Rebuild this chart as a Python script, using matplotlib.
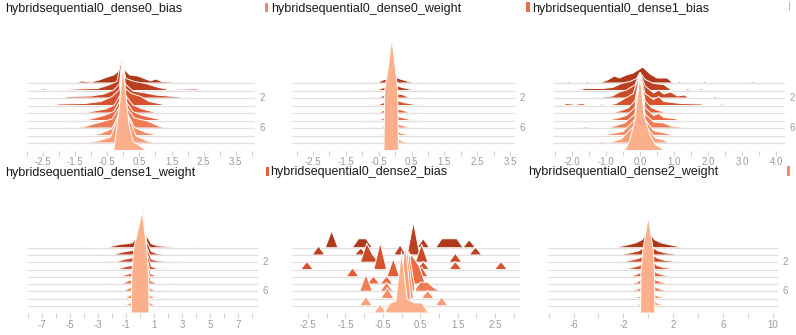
import matplotlib
matplotlib.use("Agg")
import matplotlib.pyplot as plt
from matplotlib.patches import Rectangle
from matplotlib.transforms import Bbox, TransformedBbox

plt.rcParams['font.family'] = ['Liberation Sans', 'DejaVu Sans']

W, H = 796, 335
fig = plt.figure(figsize=(W / 100, H / 100), dpi=100)

# ---------------- data (histogram outlines per step: (value, count)) ----------------
titles = ["hybridsequential0_dense0_bias", "hybridsequential0_dense0_weight",
          "hybridsequential0_dense1_bias", "hybridsequential0_dense1_weight",
          "hybridsequential0_dense2_bias", "hybridsequential0_dense2_weight"]

step_labels = ["2", "6"]
step_label_rows = [2, 6]

p1_ticks = [-2.5, -1.5, -0.5, 0.5, 1.5, 2.5, 3.5]
p1_labels = ["-2.5", "-1.5", "-0.5", "0.5", "1.5", "2.5", "3.5"]
p1_rows = [
    [(-1.5, 0), (-1.3, 2), (-1.0, 1), (-0.75, 3), (-0.5, 6), (-0.3, 8), (-0.15, 12), (-0.05, 26), (0.05, 13), (0.2, 8), (0.45, 7), (0.7, 4), (0.85, 2), (1.0, 4), (1.2, 1.5), (1.6, 1), (1.85, 0)],
    [(-2.65, 0), (-2.5, 1.5), (-2.2, 0.5), (-1.4, 1.5), (-0.8, 2), (-0.5, 5), (-0.2, 9), (-0.05, 32.5), (0.08, 12), (0.35, 9), (0.7, 7), (1.1, 3), (1.4, 1), (2.3, 1.5), (2.45, 0)],
    [(-2.0, 0), (-1.7, 1.5), (-1.0, 2), (-0.6, 4), (-0.3, 8), (-0.12, 14), (-0.04, 39), (0.06, 14), (0.3, 7), (0.7, 5), (1.0, 3), (1.4, 2), (1.8, 1), (2.0, 0)],
    [(-2.3, 0), (-2.0, 1.5), (-1.2, 2), (-0.7, 4), (-0.35, 9), (-0.12, 16), (-0.04, 45.5), (0.06, 17), (0.25, 12), (0.55, 9), (0.8, 4), (1.1, 2), (1.4, 0)],
    [(-1.3, 0), (-0.9, 2), (-0.55, 4), (-0.28, 8), (-0.1, 18), (-0.03, 52), (0.06, 18), (0.3, 8), (0.6, 4), (0.9, 1.5), (1.2, 0)],
    [(-1.5, 0), (-1.0, 1.5), (-0.6, 5), (-0.3, 9), (-0.1, 20), (-0.03, 58.5), (0.06, 20), (0.3, 9), (0.6, 5), (1.0, 2), (1.3, 0)],
    [(-1.7, 0), (-1.2, 1.5), (-0.7, 6), (-0.35, 9), (-0.1, 22), (-0.02, 65), (0.07, 22), (0.35, 10), (0.75, 7), (1.1, 2), (1.4, 0)],
    [(-1.1, 0), (-0.7, 2), (-0.35, 7), (-0.12, 24), (-0.02, 71.5), (0.08, 25), (0.35, 8), (0.7, 3), (1.0, 1), (1.2, 0)],
    [(-1.3, 0), (-0.8, 2), (-0.4, 6), (-0.13, 28), (-0.02, 78), (0.1, 30), (0.4, 7), (0.75, 2), (1.1, 0)],
    [(-0.3, 0), (-0.24, 14), (-0.12, 45), (-0.02, 84.5), (0.1, 50), (0.18, 25), (0.3, 9), (0.55, 4), (0.7, 0)],
]

p2_ticks = [-2.5, -1.5, -0.5, 0.5, 1.5, 2.5, 3.5]
p2_labels = ["-2.5", "-1.5", "-0.5", "0.5", "1.5", "2.5", "3.5"]
p2_rows = [
    [(-1.0, 0), (-0.5, 1), (-0.33, 3.5), (-0.22, 4), (-0.14, 14), (-0.08, 46), (-0.02, 14), (0.08, 5), (0.2, 3.5), (0.4, 1.5), (0.8, 0)],
    [(-1.2, 0), (-0.5, 1), (-0.33, 3), (-0.22, 4), (-0.14, 16), (-0.08, 52.7), (-0.02, 16), (0.08, 4.5), (0.22, 3), (0.5, 1), (1.0, 0)],
    [(-0.9, 0), (-0.45, 1), (-0.32, 3), (-0.22, 4), (-0.14, 18), (-0.08, 59.4), (-0.02, 18), (0.08, 4), (0.2, 3.5), (0.4, 1), (0.8, 0)],
    [(-1.1, 0), (-0.5, 1), (-0.33, 3), (-0.22, 4), (-0.14, 20), (-0.08, 66.1), (-0.02, 20), (0.08, 5), (0.25, 3), (0.6, 1), (1.1, 0)],
    [(-0.8, 0), (-0.45, 1), (-0.32, 3), (-0.22, 4), (-0.14, 22), (-0.08, 72.8), (-0.02, 22), (0.08, 4), (0.2, 3), (0.4, 1), (0.7, 0)],
    [(-1.0, 0), (-0.45, 1), (-0.3, 3), (-0.22, 4), (-0.14, 24), (-0.08, 79.5), (-0.02, 24), (0.08, 4), (0.2, 3), (0.45, 1), (0.8, 0)],
    [(-0.8, 0), (-0.4, 1), (-0.3, 3), (-0.22, 4), (-0.14, 27), (-0.08, 86.2), (-0.02, 27), (0.08, 4), (0.2, 2.5), (0.4, 1), (0.7, 0)],
    [(-0.7, 0), (-0.4, 1), (-0.3, 2.5), (-0.22, 4), (-0.14, 30), (-0.08, 92.9), (-0.02, 30), (0.08, 4), (0.2, 2), (0.4, 1), (0.7, 0)],
    [(-0.6, 0), (-0.35, 1), (-0.28, 2.5), (-0.22, 5), (-0.14, 34), (-0.08, 99.6), (-0.02, 34), (0.08, 5), (0.2, 2), (0.35, 1), (0.6, 0)],
    [(-0.34, 0), (-0.32, 60), (-0.2, 85), (-0.1, 112), (0.0, 85), (0.08, 60), (0.1, 0)],
]

p3_ticks = [-2.0, -1.0, 0.0, 1.0, 2.0, 3.0, 4.0]
p3_labels = ["-2.0", "-1.0", "0.0", "1.0", "2.0", "3.0", "4.0"]
p3_rows = [
    [(-2.2, 0), (-2.1, 1.5), (-2.0, 0), (-1.65, 0), (-1.55, 1.5), (-1.45, 0), (-1.2, 0), (-0.95, 3), (-0.75, 7), (-0.6, 5), (-0.4, 8), (-0.2, 10), (0.08, 16), (0.3, 9), (0.5, 5), (0.8, 5), (0.97, 0), (1.05, 0), (1.15, 1.5), (1.3, 0), (1.8, 0), (1.9, 1.5), (2.0, 0), (3.2, 0), (3.3, 1.5), (3.4, 0)],
    [(-1.85, 0), (-1.6, 2), (-1.1, 2), (-0.8, 3), (-0.55, 7), (-0.3, 9), (-0.1, 12), (0.0, 18.2), (0.15, 11), (0.4, 7), (0.7, 6), (0.9, 1), (1.1, 0), (1.4, 1.5), (1.6, 0), (1.8, 1.5), (2.0, 0)],
    [(-1.4, 0), (-0.8, 2), (-0.6, 6), (-0.4, 8), (-0.15, 13), (0.0, 25.4), (0.15, 12), (0.4, 5), (0.55, 8), (0.7, 4), (0.9, 6), (1.1, 2), (1.3, 3), (1.45, 0), (2.1, 0), (2.2, 1.5), (2.3, 0)],
    [(-2.3, 0), (-2.15, 2), (-1.9, 1), (-1.7, 2), (-1.5, 0), (-1.2, 0), (-1.1, 1.5), (-1.0, 0), (-0.7, 2), (-0.5, 6), (-0.2, 12), (0.0, 32.6), (0.15, 12), (0.4, 6), (0.55, 9), (0.7, 4), (1.2, 2), (1.8, 1.5), (1.9, 0), (2.3, 0), (2.4, 1.5), (2.5, 0)],
    [(-0.9, 0), (-0.6, 2), (-0.35, 5), (-0.15, 12), (0.0, 39.8), (0.15, 12), (0.35, 5), (0.5, 3), (0.7, 1), (0.9, 0)],
    [(-1.0, 0), (-0.7, 2), (-0.4, 5), (-0.15, 13), (0.0, 47), (0.15, 13), (0.4, 5), (0.55, 7), (0.7, 3), (1.0, 2), (1.2, 0)],
    [(-1.8, 0), (-1.6, 1.5), (-1.4, 0), (-1.0, 0), (-0.75, 2), (-0.45, 5), (-0.15, 14), (0.0, 54.2), (0.15, 14), (0.4, 6), (0.7, 5), (0.9, 2), (1.2, 1), (1.35, 0)],
    [(-1.2, 0), (-0.9, 1.5), (-0.5, 4), (-0.15, 16), (0.0, 61.4), (0.15, 16), (0.4, 5), (0.8, 2), (1.0, 0)],
    [(-1.4, 0), (-1.1, 1.5), (-0.9, 0.5), (-0.55, 4), (-0.15, 18), (0.0, 68.6), (0.15, 18), (0.45, 5), (0.7, 3), (0.8, 1), (1.0, 0)],
    [(-0.45, 0), (-0.3, 10), (-0.15, 30), (0.0, 75.8), (0.12, 35), (0.3, 15), (0.45, 6), (0.6, 3), (0.7, 0)],
]

p4_ticks = [-7, -5, -3, -1, 1, 3, 5, 7]
p4_labels = ["-7", "-5", "-3", "-1", "1", "3", "5", "7"]
p4_rows = [
    [(-4.0, 0), (-2.2, 1), (-1.4, 3.5), (-0.9, 4), (-0.55, 5), (-0.1, 12), (0.19, 40), (0.45, 12), (0.8, 4), (1.2, 2), (2.2, 1), (4.0, 0)],
    [(-3.5, 0), (-1.8, 1), (-1.2, 3), (-0.8, 4), (-0.4, 5), (-0.05, 14), (0.19, 46.6), (0.45, 14), (0.8, 3.5), (1.2, 1.5), (2.0, 0.5), (3.5, 0)],
    [(-3.0, 0), (-1.6, 1), (-1.1, 3), (-0.7, 4), (-0.35, 6), (-0.05, 16), (0.19, 53.5), (0.45, 16), (0.8, 3), (1.2, 1.5), (3.0, 0)],
    [(-3.0, 0), (-1.5, 1), (-1.0, 3), (-0.65, 4), (-0.3, 7), (-0.05, 18), (0.18, 60.3), (0.45, 18), (0.8, 3), (1.2, 1), (3.0, 0)],
    [(-2.5, 0), (-1.3, 1), (-0.9, 2.5), (-0.6, 3.5), (-0.3, 8), (-0.05, 20), (0.18, 67.2), (0.45, 20), (0.75, 3), (1.1, 1), (2.5, 0)],
    [(-2.5, 0), (-1.2, 1), (-0.85, 3), (-0.6, 4), (-0.3, 9), (-0.05, 22), (0.17, 74), (0.45, 22), (0.75, 3), (1.1, 1), (2.5, 0)],
    [(-2.0, 0), (-1.1, 1), (-0.8, 3), (-0.55, 4), (-0.3, 10), (-0.05, 24), (0.16, 80.9), (0.45, 24), (0.7, 3), (1.0, 1), (2.0, 0)],
    [(-2.0, 0), (-1.0, 1), (-0.75, 3), (-0.5, 5), (-0.3, 12), (-0.05, 27), (0.15, 87.7), (0.45, 27), (0.7, 3), (1.0, 1), (2.0, 0)],
    [(-1.8, 0), (-1.0, 1), (-0.7, 3), (-0.5, 6), (-0.3, 14), (-0.05, 30), (0.14, 94.6), (0.45, 30), (0.7, 3), (1.0, 1), (1.8, 0)],
    [(-0.62, 0), (-0.6, 40), (-0.45, 65), (0.15, 101.4), (0.5, 60), (0.6, 35), (0.63, 0)],
]

p5_ticks = [-2.5, -1.5, -0.5, 0.5, 1.5, 2.5]
p5_labels = ["-2.5", "-1.5", "-0.5", "0.5", "1.5", "2.5"]
p5_bin_half = 0.17
p5_rows = [
    [(-1.87, 17), (-1.15, 9), (-0.95, 9), (0.58, 9), (1.08, 9), (1.28, 9), (1.48, 9), (1.81, 8)],
    [(-2.22, 9), (-1.09, 7), (-0.04, 10), (0.32, 33), (1.98, 8)],
    [(-0.93, 19), (-0.78, 8), (0.54, 18), (1.44, 9)],
    [(-2.53, 8), (-0.57, 27), (0.58, 8), (1.44, 8), (2.66, 8)],
    [(-1.31, 9), (-0.22, 18), (0.54, 10)],
    [(-0.75, 8), (-0.4, 8), (0.25, 30), (0.47, 18)],
    [(-0.95, 17), (-0.4, 9), (0.2, 40), (0.5, 9), (0.7, 9), (0.85, 4)],
    [(-0.38, 11), (0.15, 50), (0.7, 8)],
    [(-0.95, 9), (0.1, 62), (1.07, 9)],
    [(-0.57, 9), (-0.3, 10), (-0.15, 12), (0.0, 62), (0.15, 14), (0.35, 10), (0.55, 10)],
]

p6_ticks = [-6, -2, 2, 6, 10]
p6_labels = ["-6", "-2", "2", "6", "10"]
p6_rows = [
    [(-3.3, 0), (-2.4, 1), (-1.6, 3), (-1.0, 5), (-0.5, 8), (-0.15, 14), (0.0, 35), (0.15, 14), (0.5, 8), (1.0, 5), (1.7, 3), (2.5, 1), (3.3, 0)],
    [(-2.8, 0), (-2.0, 1), (-1.3, 2.5), (-0.8, 4), (-0.4, 7), (-0.12, 15), (0.0, 41.6), (0.12, 15), (0.4, 7), (0.8, 4), (1.4, 2), (2.2, 1), (2.9, 0)],
    [(-2.6, 0), (-1.8, 1), (-1.2, 2.5), (-0.75, 4), (-0.35, 7), (-0.12, 16), (0.0, 48.5), (0.12, 16), (0.35, 7), (0.75, 4), (1.3, 2), (2.0, 1), (2.6, 0)],
    [(-2.4, 0), (-1.6, 1), (-1.1, 2.5), (-0.7, 4), (-0.35, 8), (-0.12, 18), (0.0, 55.3), (0.12, 18), (0.35, 8), (0.7, 4), (1.2, 2), (1.8, 1), (2.4, 0)],
    [(-2.2, 0), (-1.4, 1), (-1.0, 2), (-0.65, 4), (-0.32, 8), (-0.1, 20), (0.0, 62.2), (0.1, 20), (0.32, 8), (0.65, 4), (1.1, 2), (1.6, 1), (2.2, 0)],
    [(-2.0, 0), (-1.2, 1), (-0.9, 2), (-0.6, 4), (-0.3, 9), (-0.1, 22), (0.0, 69), (0.1, 22), (0.3, 9), (0.6, 4), (1.0, 2), (1.4, 1), (2.0, 0)],
    [(-2.0, 0), (-1.2, 1), (-0.85, 2), (-0.6, 4), (-0.3, 10), (-0.1, 25), (0.0, 75.9), (0.1, 25), (0.3, 10), (0.6, 4), (1.0, 2), (1.4, 1), (2.0, 0)],
    [(-1.6, 0), (-1.0, 1), (-0.7, 2), (-0.5, 4), (-0.28, 11), (-0.1, 28), (0.0, 82.7), (0.1, 28), (0.28, 11), (0.5, 4), (0.8, 2), (1.2, 1), (1.6, 0)],
    [(-1.5, 0), (-0.9, 1), (-0.65, 2), (-0.5, 5), (-0.28, 12), (-0.1, 32), (0.0, 89.6), (0.1, 32), (0.28, 12), (0.5, 5), (0.8, 2), (1.1, 1), (1.5, 0)],
    [(-0.62, 0), (-0.6, 40), (-0.45, 62), (0.0, 96.4), (0.4, 62), (0.5, 40), (0.53, 0)],
]

# ---------------- styles ----------------
ROW_COLORS = ['#b0391c', '#bc4020', '#c94a27', '#d6532e', '#e15e37',
              '#ea6c45', '#f07c55', '#f48e67', '#f89f79', '#fbb08b']
BASELINE_COLOR = '#e2dcdc'


def expand_bins(bins, dx):
    bins = sorted(bins)
    out = [(bins[0][0] - dx, 0)]
    for j, (x, h) in enumerate(bins):
        if j > 0 and x - bins[j - 1][0] > 1.5 * dx:
            out.append((bins[j - 1][0] + dx, 0))
            out.append((x - dx, 0))
        out.append((x, h))
    out.append((bins[-1][0] + dx, 0))
    return out


def px_axes(l, t, r, b):
    return fig.add_axes([l / W, 1 - b / H, (r - l) / W, (b - t) / H])


def draw_panel(box, xlim, rows, spacing, ticks, labels, minor, label_clip=None, bin_half=None):
    l, t, r, b = box
    ax = px_axes(l, t, r, b)
    ax.patch.set_alpha(0)
    n = len(rows)
    for i, pts in enumerate(rows):
        base = spacing * (n - 1 - i)
        col = ROW_COLORS[i]
        if bin_half is not None:
            pts = expand_bins(pts, bin_half)
        xs = [p[0] for p in pts]
        ys = [base + p[1] for p in pts]
        ax.fill(xs + [xs[-1], xs[0]], ys + [base, base], facecolor=col,
                edgecolor='white', linewidth=0.7, zorder=2 * i + 1, clip_on=False)
        ax.plot(xlim, [base, base], color=BASELINE_COLOR, alpha=0.9, lw=0.9,
                zorder=2 * i + 2, solid_capstyle='butt')
    ax.set_xlim(*xlim)
    ax.set_ylim(0, b - t)
    ax.set_yticks([])
    for s in ax.spines.values():
        s.set_visible(False)
    ax.set_xticks(ticks)
    ax.set_xticklabels(labels)
    ax.set_xticks(minor, minor=True)
    ax.tick_params(axis='x', which='both', length=3.5, width=0.8, color='#d5d5d5',
                   labelcolor='#9a9a9a', labelsize=7, pad=1.5)
    for lab, row in zip(step_labels, step_label_rows):
        tx = ax.annotate(lab, xy=(1, spacing * (n - 1 - row)),
                         xycoords=('axes fraction', 'data'),
                         xytext=(3, 0), textcoords='offset points',
                         ha='left', va='center', fontsize=7, color='#9a9a9a')
        if label_clip is not None:
            tx.set_clip_box(TransformedBbox(Bbox.from_extents(0, 0, label_clip / W, 1),
                                            fig.transFigure))
            tx.set_clip_on(True)
    return ax


TOP = (28, 150.5)
BOT = (195, 313)

draw_panel((27, TOP[0], 255, TOP[1]), (-3.0, 4.1), p1_rows, 7.5, p1_ticks, p1_labels,
           [-3, -2, -1, 0, 1, 2, 3, 4])
draw_panel((292, TOP[0], 515, TOP[1]), (-3.14, 3.65), p2_rows, 7.5, p2_ticks, p2_labels,
           [-3, -2, -1, 0, 1, 2, 3])
draw_panel((553, TOP[0], 785, TOP[1]), (-2.55, 4.25), p3_rows, 7.5, p3_ticks, p3_labels,
           [-2.5, -1.5, -0.5, 0.5, 1.5, 2.5, 3.5])
draw_panel((27, BOT[0], 258, BOT[1]), (-8.07, 8.4), p4_rows, 7.25, p4_ticks, p4_labels,
           [-8, -6, -4, -2, 0, 2, 4, 6, 8])
draw_panel((292, BOT[0], 520, BOT[1]), (-2.93, 3.17), p5_rows, 7.25, p5_ticks, p5_labels,
           [-2, -1, 0, 1, 2, 3], label_clip=525, bin_half=p5_bin_half)
draw_panel((548, BOT[0], 778, BOT[1]), (-8.05, 10.4), p6_rows, 7.25, p6_ticks, p6_labels,
           [-8, -4, 0, 4, 8])

# titles
title_pos = [(5, 12), (271, 12), (532, 12), (5, 176), (270, 175.5), (528, 175.5)]
for (x, y), s in zip(title_pos, titles):
    fig.text(x / W, 1 - y / H, s, fontsize=9, ha='left', va='baseline', color='#1a1a1a')

# small card colour markers (cropped neighbours in the screenshot)
marks = [(265, 3, 3, 9, '#ee8a6a'), (526, 2, 4, 10, '#ef6c4a'), (788.5, 2, 1, 9, '#bbbbbb'),
         (265.5, 167, 3, 9, '#e45a3a'), (786.5, 166, 3.5, 10, '#f08c64')]
for x, y, w, h, c in marks:
    fig.add_artist(Rectangle((x / W, 1 - (y + h) / H), w / W, h / H,
                             transform=fig.transFigure, facecolor=c, edgecolor='none'))

fig.savefig("out.png", dpi=100)
